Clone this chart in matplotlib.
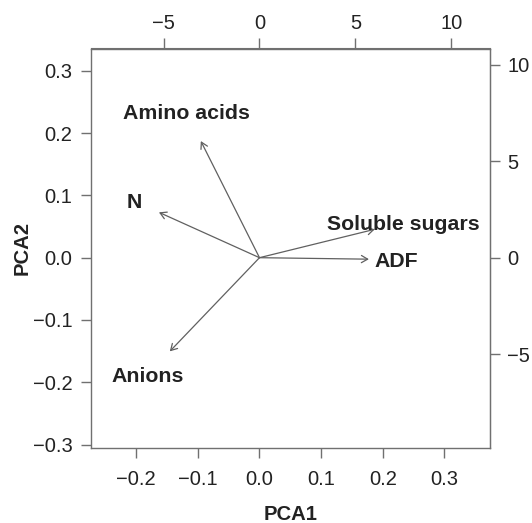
import matplotlib
matplotlib.use("Agg")
import matplotlib.pyplot as plt
from matplotlib.patches import FancyArrowPatch
from matplotlib.ticker import FuncFormatter

# ---- data (variable loadings, in PCA axis units) ----
variables = ["Amino acids", "N", "Soluble sugars", "ADF", "Anions"]
pc1 = [-0.119, -0.204, 0.234, 0.222, -0.182]
pc2 = [0.234, 0.091, 0.057, -0.003, -0.188]

x_ticks = [-0.2, -0.1, 0.0, 0.1, 0.2, 0.3]
y_ticks = [-0.3, -0.2, -0.1, 0.0, 0.1, 0.2, 0.3]
top_ticks = [-5, 0, 5, 10]
right_ticks = [-5, 0, 5, 10]

# ---- style ----
plt.rcParams["font.family"] = ["Liberation Sans", "DejaVu Sans"]
plt.rcParams["axes.unicode_minus"] = True
TXT = "#222222"
FRAME = "#707070"
ARROW = "#606060"
ARROW_SCALE = 0.8   # R biplot draws arrows at 0.8 x loadings
SX, SY = 32.1, 32.3  # secondary axis scale factors

W, H = 532, 523
fig = plt.figure(figsize=(W / 100, H / 100), dpi=100)
ax = fig.add_axes([91 / W, 1 - 447.5 / H, 399 / W, 399 / H])
ax.set_xlim(-0.2735, 0.3742)
ax.set_ylim(-0.3047, 0.3358)

for s in ax.spines.values():
    s.set_color(FRAME)
    s.set_linewidth(1.0)

fmt = FuncFormatter(lambda v, p: f"{v:.1f}".replace("-", "\u2212"))
ax.set_xticks(x_ticks)
ax.set_yticks(y_ticks)
ax.xaxis.set_major_formatter(fmt)
ax.yaxis.set_major_formatter(fmt)
ax.tick_params(axis="x", length=7, width=1, color=FRAME, labelsize=14.5,
               labelcolor=TXT, pad=9.4)
ax.tick_params(axis="y", length=7, width=1, color=FRAME, labelsize=14.5,
               labelcolor=TXT, pad=6.3)

secx = ax.secondary_xaxis("top", functions=(lambda x: x * SX, lambda x: x / SX))
secx.set_xticks(top_ticks)
secx.xaxis.set_major_formatter(FuncFormatter(lambda v, p: f"{v:g}".replace("-", "\u2212")))
secx.tick_params(length=7, width=1, color=FRAME, labelsize=14.5, labelcolor=TXT, pad=4.1)
secx.spines["top"].set_color(FRAME)

secy = ax.secondary_yaxis("right", functions=(lambda y: y * SY, lambda y: y / SY))
secy.set_yticks(right_ticks)
secy.yaxis.set_major_formatter(FuncFormatter(lambda v, p: f"{v:g}".replace("-", "\u2212")))
secy.tick_params(length=7, width=1, color=FRAME, labelsize=14.5, labelcolor=TXT, pad=5.5)
secy.spines["right"].set_color(FRAME)

# arrows and labels
for name, x, y in zip(variables, pc1, pc2):
    arr = FancyArrowPatch((0, 0), (x * ARROW_SCALE, y * ARROW_SCALE),
                          arrowstyle="->,head_length=0.45,head_width=0.26",
                          mutation_scale=10, shrinkA=0, shrinkB=0,
                          color=ARROW, linewidth=0.9)
    ax.add_patch(arr)
    ax.text(x, y, name, ha="center", va="center_baseline", fontsize=15.3,
            fontweight="bold", color=TXT)

# axis titles
fig.text(290.3 / W, 1 - 519.7 / H, "PCA1", ha="center", va="baseline",
         fontsize=14.6, fontweight="bold", color=TXT)
fig.text(27.3 / W, 1 - 248 / H, "PCA2", ha="center", va="baseline",
         rotation=90, rotation_mode="anchor",
         fontsize=14.6, fontweight="bold", color=TXT)

fig.savefig("out.png", dpi=100)
